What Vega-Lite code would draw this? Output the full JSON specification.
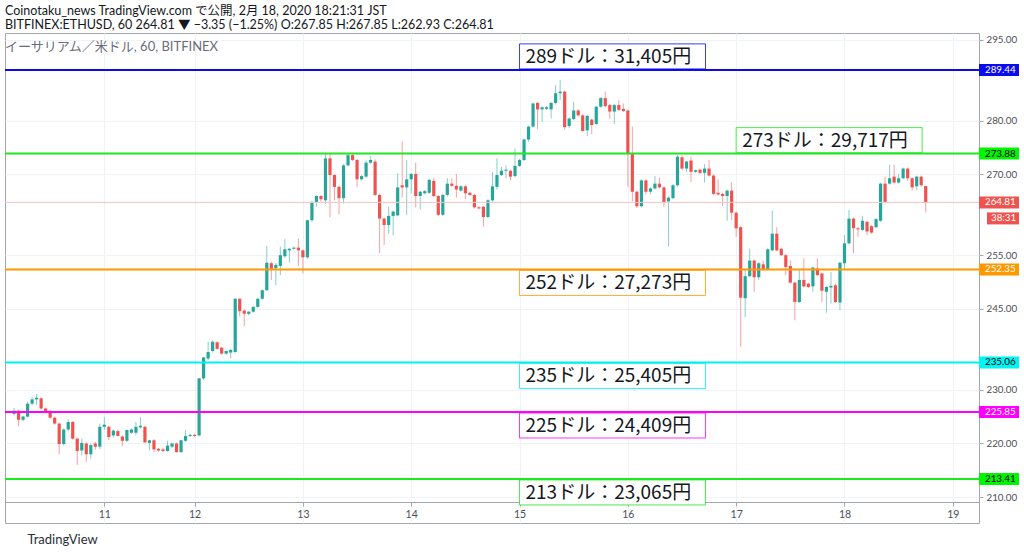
{
  "$schema": "https://vega.github.io/schema/vega-lite/v6.json",
  "width": 974,
  "height": 490,
  "autosize": {"type": "none"},
  "padding": {"left": 5, "top": 33, "right": 45, "bottom": 29},
  "background": "white",
  "config": {
    "view": {"stroke": "#a3a6af", "strokeWidth": 1},
    "font": "Lato, 'Noto Sans CJK JP', sans-serif"
  },
  "title": {
    "text": [
      "Coinotaku_news TradingView.com で公開, 2月 18, 2020 18:21:31 JST",
      "BITFINEX:ETHUSD, 60 264.81 ▼ −3.35 (−1.25%) O:267.85 H:267.85 L:262.93 C:264.81"
    ],
    "subtitle": "\u00a0\u00a0\u00a0イーサリアム／米ドル, 60, BITFINEX",
    "anchor": "start",
    "frame": "group",
    "font": "Lato, 'Noto Sans CJK JP', sans-serif",
    "fontSize": 12.5,
    "fontWeight": "normal",
    "lineHeight": 14,
    "color": "#131722",
    "subtitleFont": "Lato, 'Noto Sans CJK JP', sans-serif",
    "subtitleFontSize": 13,
    "subtitleColor": "#6a6d78",
    "subtitlePadding": 10,
    "offset": -21
  },
  "datasets": {
    "candles": [
      {"i":0,"o":225.5,"h":226.6,"l":225.2,"c":226.1},{"i":1,"o":226.1,"h":226.3,"l":223.2,"c":224.4},
      {"i":2,"o":224.4,"h":225.1,"l":224.1,"c":225.0},{"i":3,"o":225.0,"h":227.8,"l":224.8,"c":227.4},
      {"i":4,"o":227.4,"h":228.7,"l":227.1,"c":228.2},{"i":5,"o":228.2,"h":229.2,"l":227.2,"c":228.5},
      {"i":6,"o":228.4,"h":228.6,"l":226.3,"c":226.5},{"i":7,"o":226.5,"h":226.7,"l":225.9,"c":226.0},
      {"i":8,"o":226.0,"h":226.2,"l":224.6,"c":224.8},{"i":9,"o":224.8,"h":225.0,"l":223.5,"c":223.7},
      {"i":10,"o":223.7,"h":223.9,"l":218.0,"c":219.9},{"i":11,"o":219.9,"h":222.8,"l":219.6,"c":222.6},
      {"i":12,"o":222.6,"h":224.5,"l":222.3,"c":224.0},{"i":13,"o":224.0,"h":224.2,"l":220.7,"c":220.9},
      {"i":14,"o":220.9,"h":221.1,"l":216.0,"c":218.6},{"i":15,"o":218.7,"h":220.9,"l":217.8,"c":220.1},
      {"i":16,"o":220.0,"h":220.2,"l":216.6,"c":218.0},{"i":17,"o":218.0,"h":220.0,"l":217.2,"c":219.7},
      {"i":18,"o":220.0,"h":220.3,"l":218.9,"c":219.4},{"i":19,"o":219.4,"h":223.7,"l":219.0,"c":223.1},
      {"i":20,"o":223.1,"h":224.9,"l":222.5,"c":223.5},{"i":21,"o":223.1,"h":223.3,"l":220.6,"c":221.2},
      {"i":22,"o":221.5,"h":222.6,"l":221.1,"c":222.4},{"i":23,"o":222.3,"h":222.6,"l":221.3,"c":221.4},
      {"i":24,"o":221.3,"h":221.5,"l":219.5,"c":220.5},{"i":25,"o":220.5,"h":222.6,"l":220.3,"c":222.5},
      {"i":26,"o":222.0,"h":222.8,"l":221.8,"c":222.6},{"i":27,"o":222.0,"h":224.0,"l":221.5,"c":223.1},
      {"i":28,"o":223.0,"h":224.9,"l":222.8,"c":223.3},{"i":29,"o":223.1,"h":223.3,"l":220.1,"c":220.2},
      {"i":30,"o":220.1,"h":220.7,"l":218.7,"c":220.6},{"i":31,"o":220.6,"h":220.8,"l":218.4,"c":218.9},
      {"i":32,"o":219.0,"h":219.2,"l":218.5,"c":218.7},{"i":33,"o":218.9,"h":219.2,"l":218.4,"c":218.6},
      {"i":34,"o":218.6,"h":220.5,"l":218.5,"c":219.6},{"i":35,"o":219.4,"h":220.1,"l":219.2,"c":220.0},
      {"i":36,"o":220.0,"h":220.2,"l":218.3,"c":218.4},{"i":37,"o":218.4,"h":220.7,"l":218.3,"c":220.6},
      {"i":38,"o":220.5,"h":222.5,"l":220.3,"c":221.4},{"i":39,"o":221.4,"h":221.8,"l":221.2,"c":221.6},
      {"i":40,"o":221.6,"h":221.8,"l":221.2,"c":221.4},{"i":41,"o":221.5,"h":232.2,"l":221.3,"c":232.1},
      {"i":42,"o":232.1,"h":236.1,"l":231.8,"c":236.0},{"i":43,"o":235.8,"h":238.9,"l":235.5,"c":237.0},
      {"i":44,"o":237.2,"h":239.2,"l":236.9,"c":238.9},{"i":45,"o":238.8,"h":239.0,"l":237.4,"c":237.6},
      {"i":46,"o":237.8,"h":238.0,"l":236.5,"c":236.7},{"i":47,"o":236.7,"h":237.3,"l":236.5,"c":237.2},
      {"i":48,"o":236.9,"h":237.6,"l":235.8,"c":237.4},{"i":49,"o":237.0,"h":247.0,"l":236.8,"c":246.9},
      {"i":50,"o":246.9,"h":247.0,"l":243.6,"c":244.6},{"i":51,"o":244.7,"h":244.9,"l":241.8,"c":244.1},
      {"i":52,"o":244.1,"h":244.6,"l":243.8,"c":244.5},{"i":53,"o":244.5,"h":245.5,"l":244.3,"c":245.4},
      {"i":54,"o":245.4,"h":247.1,"l":245.2,"c":246.9},{"i":55,"o":246.9,"h":248.6,"l":246.7,"c":248.5},
      {"i":56,"o":248.5,"h":256.7,"l":248.3,"c":253.6},{"i":57,"o":253.5,"h":253.8,"l":250.4,"c":252.5},
      {"i":58,"o":252.6,"h":253.5,"l":249.4,"c":253.2},{"i":59,"o":253.0,"h":256.6,"l":251.3,"c":255.0},
      {"i":60,"o":254.8,"h":258.0,"l":254.5,"c":256.1},{"i":61,"o":255.9,"h":256.3,"l":253.6,"c":256.2},
      {"i":62,"o":256.2,"h":256.6,"l":256.0,"c":256.4},{"i":63,"o":256.4,"h":258.1,"l":253.0,"c":255.9},
      {"i":64,"o":255.9,"h":256.1,"l":251.6,"c":254.6},{"i":65,"o":254.6,"h":261.6,"l":254.3,"c":261.5},
      {"i":66,"o":261.5,"h":265.0,"l":261.2,"c":264.9},{"i":67,"o":264.9,"h":266.1,"l":264.0,"c":266.0},
      {"i":68,"o":266.0,"h":266.2,"l":265.0,"c":265.4},{"i":69,"o":265.2,"h":273.9,"l":264.5,"c":273.0},
      {"i":70,"o":273.0,"h":273.9,"l":262.0,"c":269.9},{"i":71,"o":269.9,"h":270.1,"l":265.2,"c":267.7},
      {"i":72,"o":267.7,"h":267.9,"l":262.6,"c":265.6},{"i":73,"o":265.6,"h":271.9,"l":264.6,"c":271.7},
      {"i":74,"o":271.7,"h":273.9,"l":271.5,"c":273.6},{"i":75,"o":273.6,"h":273.9,"l":272.5,"c":272.7},
      {"i":76,"o":272.7,"h":272.9,"l":267.7,"c":269.1},{"i":77,"o":269.1,"h":269.9,"l":268.9,"c":269.7},
      {"i":78,"o":269.6,"h":272.6,"l":269.3,"c":272.2},{"i":79,"o":272.2,"h":273.4,"l":271.9,"c":272.7},
      {"i":80,"o":272.4,"h":272.8,"l":266.0,"c":266.2},{"i":81,"o":266.2,"h":266.4,"l":255.4,"c":261.8},
      {"i":82,"o":261.8,"h":262.0,"l":256.9,"c":260.6},{"i":83,"o":260.6,"h":264.0,"l":259.0,"c":262.3},
      {"i":84,"o":262.3,"h":263.3,"l":258.7,"c":263.1},{"i":85,"o":262.4,"h":270.2,"l":262.2,"c":267.6},
      {"i":86,"o":268.0,"h":276.2,"l":265.7,"c":267.6},{"i":87,"o":267.6,"h":272.7,"l":262.5,"c":269.1},
      {"i":88,"o":269.1,"h":270.3,"l":266.5,"c":270.1},{"i":89,"o":270.1,"h":272.2,"l":263.9,"c":266.0},
      {"i":90,"o":266.0,"h":266.9,"l":263.5,"c":266.8},{"i":91,"o":266.5,"h":267.1,"l":266.3,"c":266.9},
      {"i":92,"o":266.6,"h":269.2,"l":266.4,"c":269.0},{"i":93,"o":268.8,"h":269.4,"l":265.8,"c":266.0},
      {"i":94,"o":266.0,"h":266.2,"l":262.3,"c":262.5},{"i":95,"o":262.5,"h":266.4,"l":262.3,"c":266.2},
      {"i":96,"o":266.2,"h":269.3,"l":265.9,"c":268.3},{"i":97,"o":268.3,"h":269.3,"l":267.7,"c":267.9},
      {"i":98,"o":267.9,"h":270.1,"l":265.7,"c":267.2},{"i":99,"o":267.0,"h":268.0,"l":266.8,"c":267.8},
      {"i":100,"o":267.8,"h":268.0,"l":265.4,"c":266.5},{"i":101,"o":266.6,"h":266.8,"l":266.0,"c":266.2},
      {"i":102,"o":266.2,"h":266.4,"l":263.7,"c":263.9},{"i":103,"o":263.9,"h":264.1,"l":263.5,"c":263.7},
      {"i":104,"o":264.0,"h":264.2,"l":260.3,"c":262.1},{"i":105,"o":262.1,"h":265.4,"l":261.9,"c":265.2},
      {"i":106,"o":265.2,"h":270.5,"l":264.9,"c":267.8},{"i":107,"o":267.7,"h":273.0,"l":267.2,"c":269.9},
      {"i":108,"o":269.9,"h":271.4,"l":269.7,"c":270.7},{"i":109,"o":270.7,"h":271.7,"l":269.3,"c":270.9},
      {"i":110,"o":270.7,"h":270.9,"l":268.9,"c":269.6},{"i":111,"o":269.7,"h":274.8,"l":269.5,"c":271.6},
      {"i":112,"o":271.6,"h":272.9,"l":271.4,"c":272.7},{"i":113,"o":272.7,"h":276.7,"l":272.5,"c":276.5},
      {"i":114,"o":276.5,"h":279.1,"l":276.1,"c":278.9},{"i":115,"o":278.9,"h":283.4,"l":278.7,"c":283.2},
      {"i":116,"o":283.3,"h":283.5,"l":278.4,"c":282.1},{"i":117,"o":282.1,"h":282.7,"l":279.8,"c":282.5},
      {"i":118,"o":282.2,"h":282.8,"l":282.0,"c":282.5},{"i":119,"o":282.1,"h":283.5,"l":280.4,"c":283.3},
      {"i":120,"o":283.3,"h":286.6,"l":283.0,"c":285.1},{"i":121,"o":285.1,"h":287.6,"l":283.8,"c":285.4},
      {"i":122,"o":285.4,"h":285.6,"l":278.3,"c":278.8},{"i":123,"o":279.0,"h":280.6,"l":278.6,"c":280.4},
      {"i":124,"o":280.3,"h":283.5,"l":280.1,"c":281.9},{"i":125,"o":281.9,"h":282.1,"l":280.8,"c":281.0},
      {"i":126,"o":281.0,"h":281.2,"l":277.9,"c":278.1},{"i":127,"o":278.2,"h":281.1,"l":277.1,"c":280.9},
      {"i":128,"o":280.2,"h":280.4,"l":277.5,"c":279.2},{"i":129,"o":279.4,"h":282.8,"l":279.2,"c":282.6},
      {"i":130,"o":282.6,"h":284.4,"l":282.4,"c":284.2},{"i":131,"o":284.2,"h":285.4,"l":282.5,"c":282.7},
      {"i":132,"o":282.9,"h":283.1,"l":280.3,"c":281.7},{"i":133,"o":281.7,"h":283.1,"l":279.4,"c":282.9},
      {"i":134,"o":282.9,"h":283.8,"l":281.8,"c":282.0},{"i":135,"o":282.2,"h":283.2,"l":281.6,"c":281.8},
      {"i":136,"o":281.9,"h":282.1,"l":267.7,"c":273.9},{"i":137,"o":273.9,"h":278.9,"l":265.0,"c":266.8},
      {"i":138,"o":266.8,"h":267.0,"l":263.8,"c":264.1},{"i":139,"o":264.1,"h":269.1,"l":263.9,"c":268.9},
      {"i":140,"o":268.9,"h":269.1,"l":266.3,"c":266.8},{"i":141,"o":266.8,"h":267.6,"l":266.3,"c":267.4},
      {"i":142,"o":267.4,"h":269.7,"l":267.2,"c":268.3},{"i":143,"o":268.3,"h":269.4,"l":267.4,"c":267.6},
      {"i":144,"o":267.6,"h":267.8,"l":264.0,"c":264.9},{"i":145,"o":265.0,"h":265.9,"l":256.6,"c":265.7},
      {"i":146,"o":265.6,"h":268.2,"l":265.4,"c":268.0},{"i":147,"o":268.0,"h":273.6,"l":267.8,"c":273.3},
      {"i":148,"o":273.2,"h":273.6,"l":270.8,"c":271.1},{"i":149,"o":271.1,"h":272.5,"l":270.5,"c":272.4},
      {"i":150,"o":272.6,"h":273.3,"l":268.6,"c":270.5},{"i":151,"o":270.5,"h":270.9,"l":270.3,"c":270.8},
      {"i":152,"o":270.9,"h":271.1,"l":270.1,"c":270.3},{"i":153,"o":270.3,"h":271.9,"l":268.5,"c":271.1},
      {"i":154,"o":271.1,"h":272.7,"l":269.6,"c":269.8},{"i":155,"o":269.8,"h":270.0,"l":266.2,"c":266.4},
      {"i":156,"o":266.6,"h":269.1,"l":266.1,"c":266.3},{"i":157,"o":266.4,"h":266.6,"l":264.1,"c":266.0},
      {"i":158,"o":266.0,"h":267.2,"l":261.4,"c":267.0},{"i":159,"o":267.0,"h":268.5,"l":261.5,"c":262.9},
      {"i":160,"o":262.9,"h":263.1,"l":258.4,"c":260.0},{"i":161,"o":260.2,"h":260.4,"l":238.0,"c":247.1},
      {"i":162,"o":247.0,"h":252.5,"l":243.5,"c":251.1},{"i":163,"o":251.1,"h":256.2,"l":250.9,"c":254.0},
      {"i":164,"o":254.0,"h":254.2,"l":248.2,"c":250.9},{"i":165,"o":250.9,"h":253.7,"l":250.4,"c":253.5},
      {"i":166,"o":253.3,"h":254.0,"l":252.1,"c":252.3},{"i":167,"o":252.3,"h":256.3,"l":252.1,"c":256.1},
      {"i":168,"o":255.9,"h":263.3,"l":255.7,"c":259.0},{"i":169,"o":259.0,"h":260.2,"l":255.7,"c":255.9},
      {"i":170,"o":256.2,"h":256.4,"l":254.8,"c":255.0},{"i":171,"o":255.0,"h":255.2,"l":251.3,"c":252.8},
      {"i":172,"o":253.0,"h":254.0,"l":249.7,"c":249.9},{"i":173,"o":249.9,"h":250.1,"l":242.9,"c":246.3},
      {"i":174,"o":246.3,"h":252.2,"l":246.1,"c":250.4},{"i":175,"o":250.4,"h":254.4,"l":249.0,"c":249.2},
      {"i":176,"o":249.7,"h":249.9,"l":248.9,"c":249.1},{"i":177,"o":249.2,"h":252.9,"l":248.2,"c":252.7},
      {"i":178,"o":252.5,"h":254.4,"l":251.1,"c":251.3},{"i":179,"o":251.6,"h":251.8,"l":246.3,"c":248.4},
      {"i":180,"o":248.2,"h":249.3,"l":244.3,"c":249.1},{"i":181,"o":249.0,"h":251.9,"l":246.0,"c":249.3},
      {"i":182,"o":249.4,"h":249.7,"l":246.1,"c":246.3},{"i":183,"o":246.2,"h":253.8,"l":244.8,"c":253.6},
      {"i":184,"o":253.5,"h":258.7,"l":252.3,"c":257.2},{"i":185,"o":257.2,"h":263.4,"l":257.0,"c":261.8},
      {"i":186,"o":261.8,"h":262.0,"l":255.4,"c":260.0},{"i":187,"o":260.0,"h":260.3,"l":258.4,"c":259.8},
      {"i":188,"o":259.7,"h":262.3,"l":259.5,"c":261.4},{"i":189,"o":261.2,"h":261.4,"l":258.7,"c":259.4},
      {"i":190,"o":260.4,"h":260.6,"l":259.0,"c":259.2},{"i":191,"o":260.2,"h":261.9,"l":260.0,"c":261.7},
      {"i":192,"o":261.4,"h":268.5,"l":261.2,"c":268.3},{"i":193,"o":268.3,"h":269.6,"l":264.7,"c":264.9},
      {"i":194,"o":268.3,"h":271.8,"l":268.1,"c":269.3},{"i":195,"o":269.6,"h":271.8,"l":268.3,"c":268.5},
      {"i":196,"o":268.5,"h":270.1,"l":268.3,"c":269.3},{"i":197,"o":269.3,"h":271.3,"l":269.1,"c":271.1},
      {"i":198,"o":271.1,"h":271.3,"l":268.8,"c":269.3},{"i":199,"o":269.3,"h":269.5,"l":267.0,"c":267.6},
      {"i":200,"o":267.8,"h":269.8,"l":267.1,"c":269.6},{"i":201,"o":269.6,"h":269.8,"l":267.7,"c":268.0},
      {"i":202,"o":267.85,"h":267.85,"l":262.93,"c":264.81}
    ],
    "levels": [
      {"name": "289", "price": 289.44, "label": "289ドル：31,405円", "t0": 112},
      {"name": "273", "price": 273.88, "label": "273ドル：29,717円", "t0": 160},
      {"name": "last", "price": 264.81, "countdown": "38:31"},
      {"name": "252", "price": 252.35, "label": "252ドル：27,273円", "t0": 112},
      {"name": "235", "price": 235.06, "label": "235ドル：25,405円", "t0": 112},
      {"name": "225", "price": 225.85, "label": "225ドル：24,409円", "t0": 112},
      {"name": "213", "price": 213.41, "label": "213ドル：23,065円", "t0": 112}
    ]
  },
  "layer": [
    {
      "data": {"name": "candles"},
      "mark": {"type": "rule", "strokeWidth": 1, "opacity": 0.55},
      "encoding": {
        "x": {
          "field": "i", "type": "quantitative",
          "scale": {"domain": [-0.9, 212.7], "nice": false, "zero": false},
          "axis": {
            "orient": "bottom", "offset": -21,
            "values": [20, 40, 64, 88, 112, 136, 160, 184, 208],
            "labelExpr": "datum.value == 20 ? '11' : datum.value == 40 ? '12' : toString(13 + (datum.value - 64) / 24)",
            "grid": true, "gridColor": "#eff2f7",
            "domain": true, "domainColor": "#a3a6af",
            "ticks": true, "tickColor": "#a3a6af", "tickSize": 4,
            "labelColor": "#4a4e58", "labelFontSize": 10.5, "labelPadding": 3,
            "labelFont": "Lato",
            "title": "TradingView",
            "titleAnchor": "start", "titleAlign": "left", "titleBaseline": "middle",
            "titleX": 22, "titleY": 37,
            "titleFont": "Lato", "titleFontSize": 13, "titleFontWeight": "normal", "titleColor": "#2a2e39"
          }
        },
        "y": {
          "field": "l", "type": "quantitative",
          "scale": {"domain": [205.22, 296.3], "nice": false, "zero": false},
          "axis": {
            "orient": "right",
            "values": [210, 215, 220, 225, 230, 240, 245, 250, 255, 260, 270, 275, 280, 285, 295],
            "format": ".2f",
            "labelOverlap": false,
            "grid": true, "gridColor": "#eff2f7",
            "domain": false,
            "tickColor": "#a3a6af", "tickSize": 4,
            "labelColor": "#4a4e58", "labelFontSize": 9.8, "labelPadding": 3,
            "labelFont": "Lato",
            "title": null
          }
        },
        "y2": {"field": "h"},
        "color": {"condition": {"test": "datum.c >= datum.o", "value": "#26a69a"}, "value": "#ef5350"}
      }
    },
    {
      "data": {"name": "candles"},
      "mark": {"type": "bar", "width": 3.2},
      "encoding": {
        "x": {"field": "i", "type": "quantitative"},
        "y": {"field": "o", "type": "quantitative"},
        "y2": {"field": "c"},
        "color": {"condition": {"test": "datum.c >= datum.o", "value": "#26a69a"}, "value": "#ef5350"}
      }
    },
    {
      "data": {"name": "levels"},
      "mark": {"type": "rule"},
      "encoding": {
        "y": {"field": "price", "type": "quantitative"},
        "stroke": {
          "field": "name", "type": "nominal", "legend": null,
          "scale": {
            "domain": ["289", "273", "last", "252", "235", "225", "213"],
            "range": ["#0b0bf0", "#1ee81e", "#f6c4c3", "#ff9800", "#00f0f0", "#ff00ff", "#1ee81e"]
          }
        },
        "strokeWidth": {"condition": {"test": "datum.name == 'last'", "value": 1}, "value": 2}
      }
    },
    {
      "data": {"name": "levels"},
      "transform": [{"filter": "isValid(datum.label) && datum.price > 270"}],
      "mark": {"type": "rect", "width": 186, "height": 25, "xOffset": 93, "yOffset": -13.5, "fill": "white", "strokeWidth": 1, "strokeOpacity": 0.8},
      "encoding": {
        "x": {"field": "t0", "type": "quantitative"},
        "y": {"field": "price", "type": "quantitative"},
        "stroke": {"field": "name", "type": "nominal", "legend": null}
      }
    },
    {
      "data": {"name": "levels"},
      "transform": [{"filter": "isValid(datum.label) && datum.price < 270"}],
      "mark": {"type": "rect", "width": 186, "height": 25, "xOffset": 93, "yOffset": 13.5, "fill": "white", "strokeWidth": 1, "strokeOpacity": 0.8},
      "encoding": {
        "x": {"field": "t0", "type": "quantitative"},
        "y": {"field": "price", "type": "quantitative"},
        "stroke": {"field": "name", "type": "nominal", "legend": null}
      }
    },
    {
      "data": {"name": "levels"},
      "transform": [{"filter": "isValid(datum.label) && datum.price > 270"}],
      "mark": {"type": "text", "align": "left", "baseline": "middle", "dx": 6, "dy": -13, "fontSize": 19, "font": "Noto Sans CJK JP", "color": "#131722"},
      "encoding": {
        "x": {"field": "t0", "type": "quantitative"},
        "y": {"field": "price", "type": "quantitative"},
        "text": {"field": "label"}
      }
    },
    {
      "data": {"name": "levels"},
      "transform": [{"filter": "isValid(datum.label) && datum.price < 270"}],
      "mark": {"type": "text", "align": "left", "baseline": "middle", "dx": 6, "dy": 14, "fontSize": 19, "font": "Noto Sans CJK JP", "color": "#131722"},
      "encoding": {
        "x": {"field": "t0", "type": "quantitative"},
        "y": {"field": "price", "type": "quantitative"},
        "text": {"field": "label"}
      }
    },
    {
      "data": {"name": "levels"},
      "mark": {"type": "rect", "width": 40, "height": 12, "xOffset": 20},
      "encoding": {
        "x": {"value": "width"},
        "y": {"field": "price", "type": "quantitative"},
        "fill": {
          "field": "name", "type": "nominal", "legend": null,
          "scale": {
            "domain": ["289", "273", "last", "252", "235", "225", "213"],
            "range": ["#0b0bf0", "#00f500", "#ef5350", "#ff9800", "#00f5f5", "#ff00ff", "#00f500"]
          }
        }
      }
    },
    {
      "data": {"name": "levels"},
      "mark": {"type": "text", "align": "left", "baseline": "middle", "dx": 6, "fontSize": 9.8, "font": "Lato"},
      "encoding": {
        "x": {"value": "width"},
        "y": {"field": "price", "type": "quantitative"},
        "text": {"field": "price", "type": "quantitative", "format": ".2f"},
        "color": {"condition": {"test": "indexof(['273', '235', '213'], datum.name) >= 0", "value": "#000000"}, "value": "#ffffff"}
      }
    },
    {
      "data": {"name": "levels"},
      "transform": [{"filter": "isValid(datum.countdown)"}],
      "mark": {"type": "rect", "width": 32, "height": 12, "xOffset": 24, "yOffset": 16, "fill": "#ef5350"},
      "encoding": {
        "x": {"value": "width"},
        "y": {"field": "price", "type": "quantitative"}
      }
    },
    {
      "data": {"name": "levels"},
      "transform": [{"filter": "isValid(datum.countdown)"}],
      "mark": {"type": "text", "align": "left", "baseline": "middle", "dx": 12, "dy": 16, "fontSize": 9.8, "font": "Lato", "color": "#ffffff"},
      "encoding": {
        "x": {"value": "width"},
        "y": {"field": "price", "type": "quantitative"},
        "text": {"field": "countdown"}
      }
    }
  ]
}
